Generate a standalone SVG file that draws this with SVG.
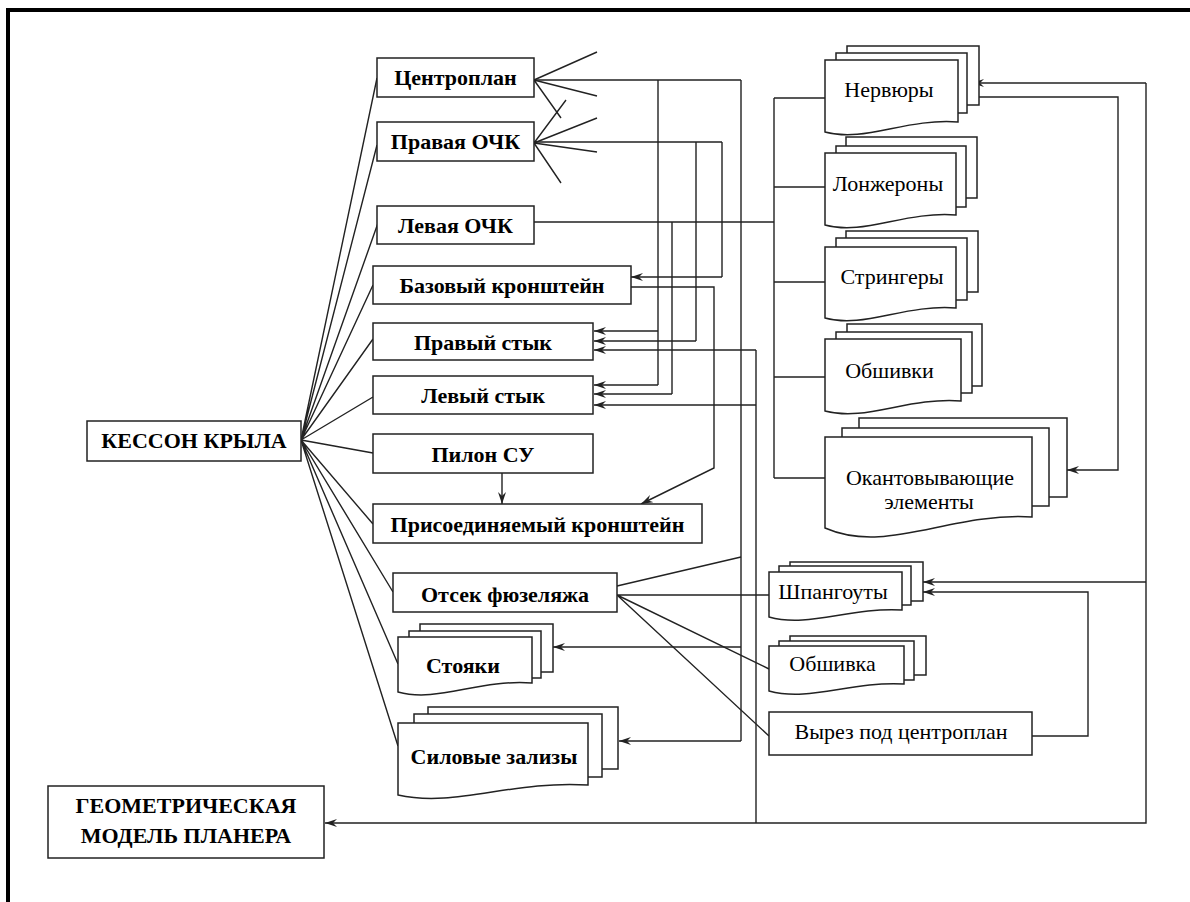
<svg xmlns="http://www.w3.org/2000/svg" width="1190" height="902" viewBox="0 0 1190 902">
  <style>
    .box { fill: #fff; stroke: #222; stroke-width: 1.5; }
    .ln { fill: none; stroke: #222; stroke-width: 1.4; }
    .b { font-family: "Liberation Serif", "DejaVu Serif", serif; font-weight: bold; font-size: 22px; text-anchor: middle; fill: #000; }
    .n { font-family: "Liberation Serif", "DejaVu Serif", serif; font-size: 22px; text-anchor: middle; fill: #000; }
  </style>
  <defs>
    <marker id="arr" viewBox="0 0 12 8" refX="12" refY="4" markerWidth="12" markerHeight="8" markerUnits="userSpaceOnUse" orient="auto">
      <path d="M0,0 L12,4 L0,8 L4,4 z" fill="#222"/>
    </marker>
  </defs>
  <rect width="1190" height="902" fill="#fff"/>

  <!-- sheet frame -->
  <path d="M8,902 V10 H1190" fill="none" stroke="#000" stroke-width="4"/>

  <!-- connectors -->
  <g id="connectors" class="ln">
    <!-- fan from the wing box -->
    <path d="M301,440 L377,78 M301,440 L377,145 M301,440 L378,223 M301,440 L373,285 M301,440 L373,339 M301,440 L373,397 M301,440 L373,453 M301,440 L373,524 M301,440 L393,592 M301,440 L398,664 M301,440 L398,746"/>
    <!-- short rays -->
    <path d="M534,80 L597,52 M534,80 L597,96 M534,80 L561,118"/>
    <path d="M534,143 L566,100 M534,143 L597,118 M534,143 L597,152 M534,143 L561,183"/>
    <!-- trunks from the upper blocks -->
    <path d="M534,80 H741 M658,80 V385 M741,80 V741"/>
    <path d="M534,142 H722 M696,142 V341 M722,142 V277"/>
    <path d="M534,222 H774 M672,222 V394"/>
    <!-- feeds into the brackets and joints -->
    <path d="M722,277 H631" marker-end="url(#arr)"/>
    <path d="M658,331 H594" marker-end="url(#arr)"/>
    <path d="M696,341 H594" marker-end="url(#arr)"/>
    <path d="M756,350 H594" marker-end="url(#arr)"/>
    <path d="M658,385 H594" marker-end="url(#arr)"/>
    <path d="M672,394 H594" marker-end="url(#arr)"/>
    <path d="M756,405 H594" marker-end="url(#arr)"/>
    <path d="M631,287 H714 V468 L641,504" marker-end="url(#arr)"/>
    <path d="M502,473 V504" marker-end="url(#arr)"/>
    <!-- return to the airframe model -->
    <path d="M756,350 V823"/>
    <path d="M1146,83 V823 H325" marker-end="url(#arr)"/>
    <path d="M1146,83 H972" marker-end="url(#arr)"/>
    <path d="M1146,582 H923" marker-end="url(#arr)"/>
    <path d="M979,97 H1118 V470 H1067" marker-end="url(#arr)"/>
    <!-- bus to the wing structure elements -->
    <path d="M774,98 V478 M774,98 H825 M774,187 H825 M774,282 H825 M774,377 H825 M774,478 H825"/>
    <!-- fuselage section links -->
    <path d="M617,586 L741,557 M617,595 H769 M617,595 L769,669 M617,595 L769,736"/>
    <path d="M741,647 H553" marker-end="url(#arr)"/>
    <path d="M741,741 H619" marker-end="url(#arr)"/>
    <path d="M1032,736 H1088 V592 H923" marker-end="url(#arr)"/>
  </g>

  <!-- left column -->
  <g id="wing-box">
    <rect class="box" x="87" y="421" width="214" height="40"/>
    <text class="b" x="194" y="448">КЕССОН КРЫЛА</text>
  </g>
  <g id="airframe-model">
    <rect class="box" x="48" y="786" width="276" height="72"/>
    <text class="b" x="186" y="813">ГЕОМЕТРИЧЕСКАЯ</text>
    <text class="b" x="186" y="843">МОДЕЛЬ ПЛАНЕРА</text>
  </g>

  <!-- wing box parts -->
  <g id="centre-section">
    <rect class="box" x="377" y="58" width="157" height="39"/>
    <text class="b" x="455.5" y="84.5">Центроплан</text>
  </g>
  <g id="right-outer-wing">
    <rect class="box" x="377" y="122" width="157" height="39"/>
    <text class="b" x="455.5" y="149">Правая ОЧК</text>
  </g>
  <g id="left-outer-wing">
    <rect class="box" x="377" y="206" width="157" height="38"/>
    <text class="b" x="455.5" y="232.5">Левая ОЧК</text>
  </g>
  <g id="base-bracket">
    <rect class="box" x="373" y="266" width="258" height="38"/>
    <text class="b" x="502" y="293">Базовый кронштейн</text>
  </g>
  <g id="right-joint">
    <rect class="box" x="373" y="323" width="220" height="37"/>
    <text class="b" x="483" y="350">Правый стык</text>
  </g>
  <g id="left-joint">
    <rect class="box" x="373" y="376" width="220" height="38"/>
    <text class="b" x="483" y="402.5">Левый стык</text>
  </g>
  <g id="engine-pylon">
    <rect class="box" x="373" y="434" width="220" height="39"/>
    <text class="b" x="483" y="461.5">Пилон СУ</text>
  </g>
  <g id="attached-bracket">
    <rect class="box" x="373" y="504" width="329" height="39"/>
    <text class="b" x="537.5" y="531.5">Присоединяемый кронштейн</text>
  </g>
  <g id="fuselage-section">
    <rect class="box" x="393" y="573" width="224" height="39"/>
    <text class="b" x="505" y="601.5">Отсек фюзеляжа</text>
  </g>
  <g id="posts">
    <rect class="box" x="420" y="624" width="133" height="48"/>
    <rect class="box" x="409" y="631" width="132" height="47"/>
    <path class="box" d="M398,637 H532 V683 C478,679 438,703 398,692 Z"/>
    <text class="b" x="463" y="672.5">Стояки</text>
  </g>
  <g id="load-fairings">
    <rect class="box" x="428" y="707" width="190" height="62"/>
    <rect class="box" x="414" y="714" width="188" height="63"/>
    <path class="box" d="M398,723 H588 V785 C512,780 455,808 398,795 Z"/>
    <text class="b" x="494" y="764">Силовые зализы</text>
  </g>

  <!-- wing structure elements -->
  <g id="ribs">
    <rect class="box" x="847" y="46" width="132" height="59"/>
    <rect class="box" x="836" y="53" width="131" height="60"/>
    <path class="box" d="M825,60 H958 V122 C905,118 865,143 825,132 Z"/>
    <text class="n" x="889" y="97">Нервюры</text>
  </g>
  <g id="spars">
    <rect class="box" x="846" y="137" width="131" height="61"/>
    <rect class="box" x="836" y="146" width="130" height="61"/>
    <path class="box" d="M825,153 H956 V215 C904,211 864,236 825,225 Z"/>
    <text class="n" x="888" y="191">Лонжероны</text>
  </g>
  <g id="stringers">
    <rect class="box" x="846" y="231" width="132" height="61"/>
    <rect class="box" x="836" y="238" width="131" height="62"/>
    <path class="box" d="M825,247 H956 V308 C904,304 864,329 825,318 Z"/>
    <text class="n" x="892" y="284">Стрингеры</text>
  </g>
  <g id="skins">
    <rect class="box" x="847" y="324" width="135" height="62"/>
    <rect class="box" x="836" y="332" width="136" height="61"/>
    <path class="box" d="M825,339 H961 V401 C907,397 866,422 825,411 Z"/>
    <text class="n" x="889.5" y="378">Обшивки</text>
  </g>
  <g id="edge-members">
    <rect class="box" x="859" y="418" width="208" height="79"/>
    <rect class="box" x="842" y="428" width="207" height="78"/>
    <path class="box" d="M825,437 H1032 V517 C949,512 887,555 825,528 Z"/>
    <text class="n" x="930" y="485">Окантовывающие</text>
    <text class="n" x="929" y="508.5">элементы</text>
  </g>

  <!-- fuselage section elements -->
  <g id="frames">
    <rect class="box" x="790" y="562" width="133" height="39"/>
    <rect class="box" x="779" y="566" width="132" height="39"/>
    <path class="box" d="M769,572 H902 V610 C849,607 809,628 769,617 Z"/>
    <text class="n" x="833" y="598.5">Шпангоуты</text>
  </g>
  <g id="fuselage-skin">
    <rect class="box" x="790" y="636" width="136" height="39"/>
    <rect class="box" x="779" y="641" width="135" height="39"/>
    <path class="box" d="M769,646 H904 V684 C850,681 810,702 769,691 Z"/>
    <text class="n" x="832.5" y="671">Обшивка</text>
  </g>
  <g id="centre-section-cutout">
    <rect class="box" x="769" y="712" width="263" height="43"/>
    <text class="n" x="901" y="738.5">Вырез под центроплан</text>
  </g>
</svg>
